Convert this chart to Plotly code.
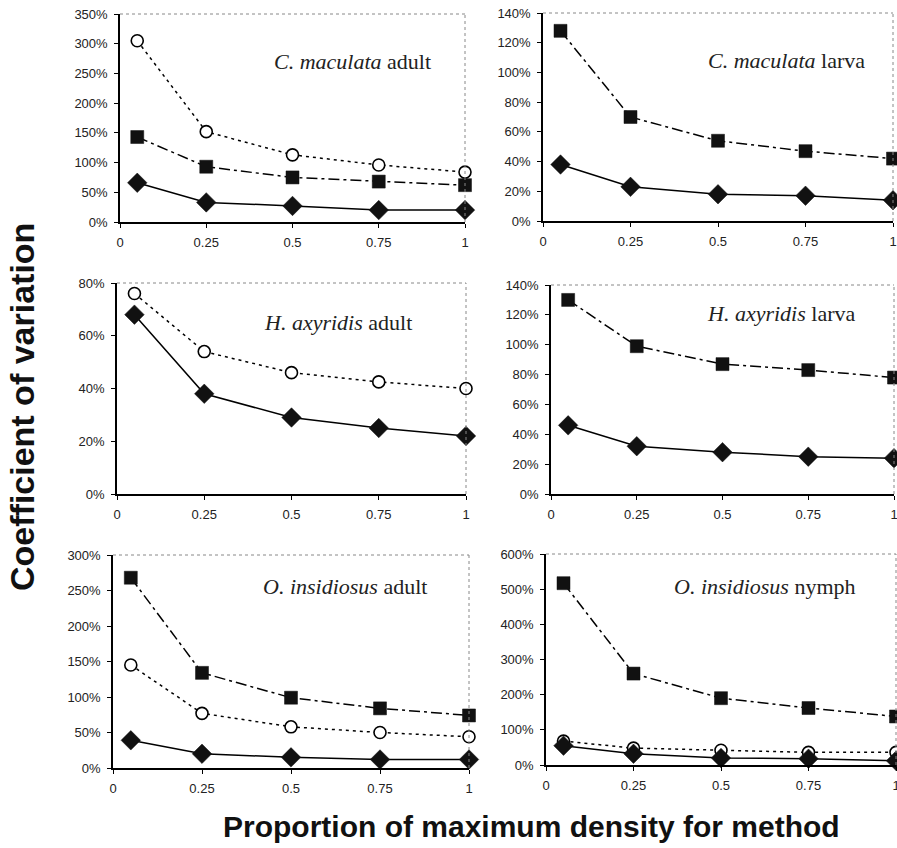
import plotly.graph_objects as go

W, H = 897, 848

x_vals = [0.05, 0.25, 0.5, 0.75, 1.0]
x_ticks = [0, 0.25, 0.5, 0.75, 1]
x_ticktext = ["0", "0.25", "0.5", "0.75", "1"]

# Panel 1: C. maculata adult
cmac_adult_circle = [305, 152, 113, 96, 84]
cmac_adult_square = [143, 93, 75, 68, 62]
cmac_adult_diamond = [66, 33, 27, 20, 20]
# Panel 2: C. maculata larva
cmac_larva_square = [128, 70, 54, 47, 42]
cmac_larva_diamond = [38, 23, 18, 17, 14]
# Panel 3: H. axyridis adult
haxy_adult_circle = [76, 54, 46, 42.5, 40]
haxy_adult_diamond = [68, 38, 29, 25, 22]
# Panel 4: H. axyridis larva
haxy_larva_square = [130, 99, 87, 83, 78]
haxy_larva_diamond = [46, 32, 28, 25, 24]
# Panel 5: O. insidiosus adult
oins_adult_square = [268, 134, 99, 84, 74]
oins_adult_circle = [145, 77, 58, 50, 44]
oins_adult_diamond = [39, 20, 15, 12, 12]
# Panel 6: O. insidiosus nymph
oins_nymph_square = [517, 260, 190, 162, 138]
oins_nymph_circle = [68, 48, 42, 36, 36]
oins_nymph_diamond = [55, 32, 20, 18, 12]

y_ranges = [350, 140, 80, 140, 300, 600]
y_dticks = [50, 20, 20, 20, 50, 100]
titles = ["<i>C. maculata</i> adult", "<i>C. maculata</i> larva",
          "<i>H. axyridis</i> adult", "<i>H. axyridis</i> larva",
          "<i>O. insidiosus</i> adult", "<i>O. insidiosus</i> nymph"]

# page-pixel boxes: (x0, x1, y_top, y_bottom)
boxes = [(120, 465, 14, 222), (543, 893, 13, 221),
         (117, 466, 283, 494), (551, 894, 285, 494),
         (113, 469, 555, 768), (546, 896, 554, 765)]
title_pos = [(0.907, 0.77), (0.926, 0.774), (0.851, 0.815),
             (0.892, 0.866), (0.888, 0.85), (0.891, 0.844)]

panels = [
    [("square", cmac_adult_square), ("circle", cmac_adult_circle), ("diamond", cmac_adult_diamond)],
    [("square", cmac_larva_square), ("diamond", cmac_larva_diamond)],
    [("circle", haxy_adult_circle), ("diamond", haxy_adult_diamond)],
    [("square", haxy_larva_square), ("diamond", haxy_larva_diamond)],
    [("square", oins_adult_square), ("circle", oins_adult_circle), ("diamond", oins_adult_diamond)],
    [("square", oins_nymph_square), ("circle", oins_nymph_circle), ("diamond", oins_nymph_diamond)],
]

style = {
    "circle": dict(marker=dict(symbol="circle", size=12, color="white",
                               line=dict(color="black", width=1.6)),
                   line=dict(color="black", width=1.5, dash="3px,4px")),
    "square": dict(marker=dict(symbol="square", size=13, color="#111",
                               line=dict(color="#111", width=0.5)),
                   line=dict(color="black", width=1.5, dash="11px,4px,3px,4px")),
    "diamond": dict(marker=dict(symbol="diamond", size=15, color="#111",
                                line=dict(color="#111", width=0.5)),
                    line=dict(color="black", width=1.5)),
}

tick_font = dict(family="Liberation Sans, Arial", size=13, color="#222")


def px_x(p):
    return p / W


def px_y(p):
    return 1 - p / H


fig = go.Figure()
annotations = []
shapes = []

for i, (series, box) in enumerate(zip(panels, boxes)):
    n = i + 1
    xa = "x" if n == 1 else f"x{n}"
    ya = "y" if n == 1 else f"y{n}"
    for kind, vals in series:
        st = style[kind]
        fig.add_trace(go.Scatter(x=x_vals, y=vals, mode="lines+markers",
                                 xaxis=xa, yaxis=ya, showlegend=False,
                                 cliponaxis=False,
                                 marker=st["marker"], line=st["line"]))
    x0, x1, yt, yb = box
    dom_x = [px_x(x0), min(px_x(x1), 1.0)]
    dom_y = [px_y(yb), px_y(yt)]
    xk = "xaxis" if n == 1 else f"xaxis{n}"
    yk = "yaxis" if n == 1 else f"yaxis{n}"
    fig.layout[xk] = dict(domain=dom_x, anchor=ya, range=[0, 1],
                          tickvals=x_ticks, ticktext=x_ticktext,
                          showgrid=False, zeroline=False, automargin=False,
                          showline=True, linecolor="black", linewidth=1.5,
                          ticks="outside", ticklen=4, tickcolor="black",
                          ticklabelstandoff=4, ticklabeloverflow="allow",
                          tickfont=tick_font)
    fig.layout[yk] = dict(domain=dom_y, anchor=xa, range=[0, y_ranges[i]],
                          dtick=y_dticks[i], ticksuffix="%",
                          showgrid=False, zeroline=False, automargin=False,
                          showline=True, linecolor="black", linewidth=1.5,
                          ticks="outside", ticklen=4, tickcolor="black",
                          ticklabelstandoff=4, ticklabeloverflow="allow",
                          tickfont=tick_font)
    # top & right borders (thin gray)
    xr = f"{xa} domain"
    yr = f"{ya} domain"
    shapes.append(dict(type="line", xref=xr, yref=yr, x0=0, x1=1, y0=1, y1=1,
                       line=dict(color="#888", width=1, dash="dot")))
    shapes.append(dict(type="line", xref=xr, yref=yr, x0=1, x1=1, y0=0, y1=1,
                       line=dict(color="#888", width=1, dash="dot")))
    tx, ty = title_pos[i]
    annotations.append(dict(text=titles[i], xref=xr, yref=yr, x=tx, y=ty,
                            xanchor="right", yanchor="middle", showarrow=False,
                            font=dict(family="Liberation Serif, Times New Roman", size=22, color="#222")))

annotations.append(dict(text="<b>Coefficient of variation</b>", xref="paper", yref="paper",
                        x=px_x(22), y=px_y(407), textangle=-90, showarrow=False,
                        xanchor="center", yanchor="middle",
                        font=dict(family="Liberation Sans, Arial", size=34, color="#111")))
annotations.append(dict(text="<b>Proportion of maximum density for method</b>", xref="paper", yref="paper",
                        x=px_x(531), y=px_y(826), showarrow=False,
                        xanchor="center", yanchor="middle",
                        font=dict(family="Liberation Sans, Arial", size=30, color="#111")))

fig.update_layout(width=W, height=H, margin=dict(l=0, r=0, t=0, b=0, autoexpand=False),
                  paper_bgcolor="white", plot_bgcolor="white",
                  annotations=annotations, shapes=shapes)

fig.write_html("out.html", config={"displayModeBar": False},
               post_script="document.body.style.margin='0px';document.body.style.overflow='hidden';")
